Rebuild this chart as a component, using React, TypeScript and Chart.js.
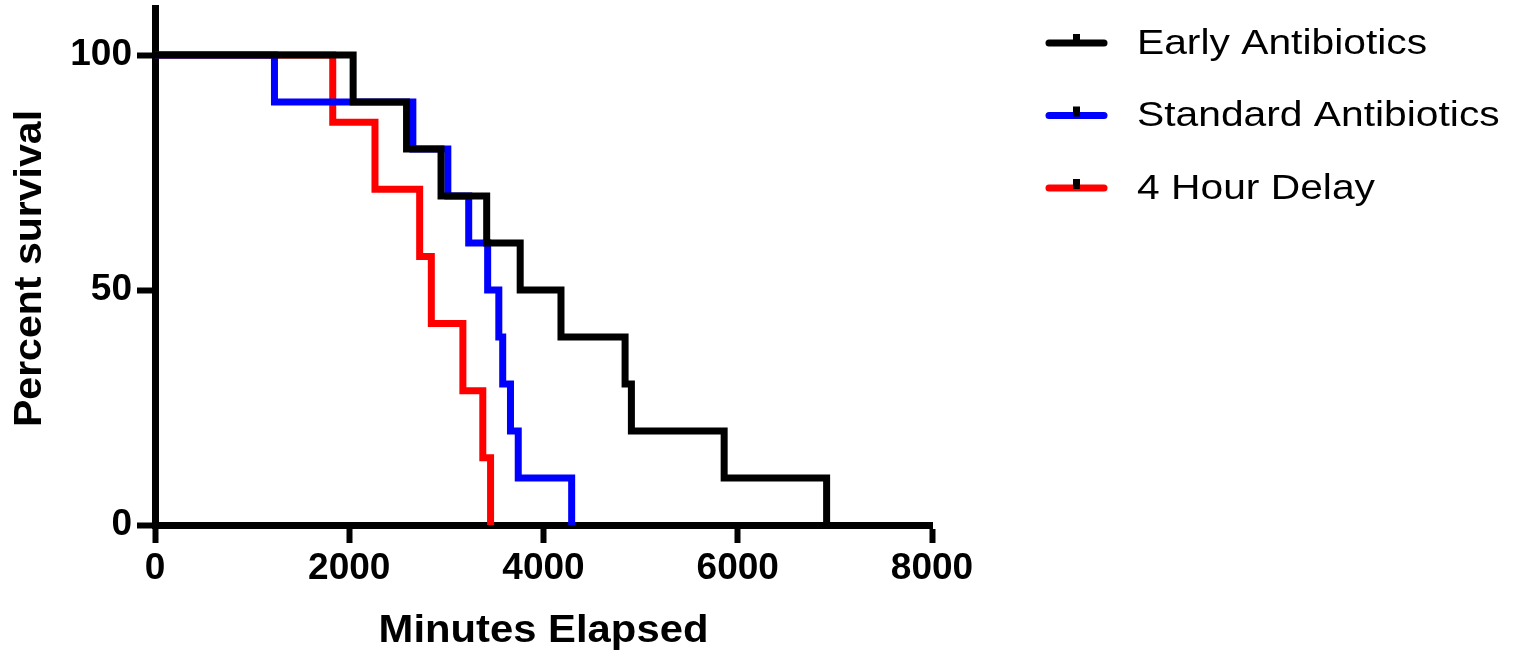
import React, { useEffect, useRef } from "react";
import { Chart, registerables } from "chart.js";

Chart.register(...registerables);

// ---- Data ----
const seriesNames = ["Early Antibiotics", "Standard Antibiotics", "4 Hour Delay"];
const seriesColors = ["#000000", "#0000FF", "#FF0000"];

const earlyTimes = [0, 2040, 2590, 2945, 3415, 3760, 4180, 4840, 4905, 5860, 6915];
const earlySurvival = [100, 90, 80, 70, 60, 50, 40, 30, 20, 10, 0];

const standardTimes = [0, 1230, 2655, 3015, 3230, 3425, 3540, 3580, 3660, 3740, 4290];
const standardSurvival = [100, 90, 80, 70, 60, 50, 40, 30, 20, 10, 0];

const delayTimes = [0, 1830, 2265, 2725, 2845, 3170, 3375, 3455];
const delaySurvival = [100, 85.71, 71.43, 57.14, 42.86, 28.57, 14.29, 0];

const xTickValues = [0, 2000, 4000, 6000, 8000];
const yTickValues = [0, 50, 100];
const xTitle = "Minutes Elapsed";
const yTitle = "Percent survival";

const toPoints = (xs: number[], ys: number[]) => xs.map((x, i) => ({ x, y: ys[i] }));

const FONT = "'Liberation Sans', Arial, Helvetica, sans-serif";

const textPlugin = {
  id: "customText",
  afterDraw(chart: any) {
    const ctx: CanvasRenderingContext2D = chart.ctx;
    const area = chart.chartArea;

    // Legend
    const rowYs = [43, 115.5, 188];
    seriesNames.forEach((name, i) => {
      const y = rowYs[i];
      ctx.save();
      ctx.strokeStyle = seriesColors[i];
      ctx.lineWidth = 7;
      ctx.lineCap = "round";
      ctx.beginPath();
      ctx.moveTo(1049, y);
      ctx.lineTo(1104, y);
      ctx.stroke();
      ctx.fillStyle = "#000";
      ctx.fillRect(1073, y - 9, 7, 10);
      ctx.font = `35px ${FONT}`;
      ctx.textBaseline = "middle";
      ctx.textAlign = "left";
      ctx.translate(1137, y + 1);
      ctx.scale(1.165, 1);
      ctx.fillText(name, 0, 0);
      ctx.restore();
    });

    // X title
    ctx.save();
    ctx.fillStyle = "#000";
    ctx.font = `bold 38px ${FONT}`;
    ctx.textAlign = "center";
    ctx.textBaseline = "middle";
    ctx.translate((area.left + area.right) / 2, 632);
    ctx.scale(1.1, 1);
    ctx.fillText(xTitle, 0, 0);
    ctx.restore();

    // Y title
    ctx.save();
    ctx.fillStyle = "#000";
    ctx.font = `bold 38px ${FONT}`;
    ctx.textAlign = "center";
    ctx.textBaseline = "middle";
    ctx.translate(31, (area.top + area.bottom) / 2 + 2);
    ctx.rotate(-Math.PI / 2);
    ctx.scale(1.08, 1);
    ctx.fillText(yTitle, 0, 0);
    ctx.restore();
  },
};

export default function App() {
  const canvasRef = useRef<HTMLCanvasElement | null>(null);

  useEffect(() => {
    document.body.style.margin = "0";
    const canvas = canvasRef.current;
    if (!canvas) return;

    const lineDs = (label: string, xs: number[], ys: number[], color: string) => ({
      label,
      data: toPoints(xs, ys),
      borderColor: color,
      backgroundColor: color,
      borderWidth: 7,
      stepped: true as const,
      pointRadius: 0,
      fill: false,
      borderCapStyle: "round" as const,
      borderJoinStyle: "miter" as const,
    });

    const chart = new Chart(canvas, {
      type: "line",
      data: {
        datasets: [
          lineDs(seriesNames[0], earlyTimes, earlySurvival, seriesColors[0]),
          lineDs(seriesNames[1], standardTimes, standardSurvival, seriesColors[1]),
          lineDs(seriesNames[2], delayTimes, delaySurvival, seriesColors[2]),
        ],
      },
      options: {
        animation: false,
        responsive: false,
        maintainAspectRatio: false,
        layout: { padding: { left: 0, right: 584, top: 8, bottom: 0 } },
        plugins: {
          legend: { display: false },
          tooltip: { enabled: false },
          title: { display: false },
        },
        scales: {
          x: {
            type: "linear",
            min: 0,
            max: 8000,
            afterBuildTicks: (scale: any) => {
              scale.ticks = xTickValues.map((v) => ({ value: v }));
            },
            afterFit: (scale: any) => {
              scale.height = 131;
              scale.paddingLeft = 0;
              scale.paddingRight = 0;
            },
            ticks: {
              color: "#000",
              padding: 4,
              maxRotation: 0,
              font: { family: FONT, size: 37, weight: "bold" },
              callback: (v: any) => String(v),
            },
            grid: {
              display: true,
              drawOnChartArea: false,
              drawTicks: true,
              tickLength: 18,
              tickWidth: 6,
              tickColor: "#000",
            },
            border: { display: true, width: 7, color: "#000" },
          },
          y: {
            type: "linear",
            min: 0,
            max: 110,
            afterBuildTicks: (scale: any) => {
              scale.ticks = yTickValues.map((v) => ({ value: v }));
            },
            afterFit: (scale: any) => {
              scale.width = 155;
              scale.paddingTop = 0;
              scale.paddingBottom = 0;
            },
            ticks: {
              color: "#000",
              padding: 5,
              font: { family: FONT, size: 37, weight: "bold" },
              callback: (v: any) => String(v),
            },
            grid: {
              display: true,
              drawOnChartArea: false,
              drawTicks: true,
              tickLength: 18,
              tickWidth: 6,
              tickColor: "#000",
            },
            border: { display: true, width: 7, color: "#000" },
          },
        },
      },
      plugins: [textPlugin],
    });

    return () => chart.destroy();
  }, []);

  return (
    <div style={{ width: 1516, height: 656, background: "#fff" }}>
      <canvas ref={canvasRef} width={1516} height={656} style={{ display: "block" }} />
    </div>
  );
}
